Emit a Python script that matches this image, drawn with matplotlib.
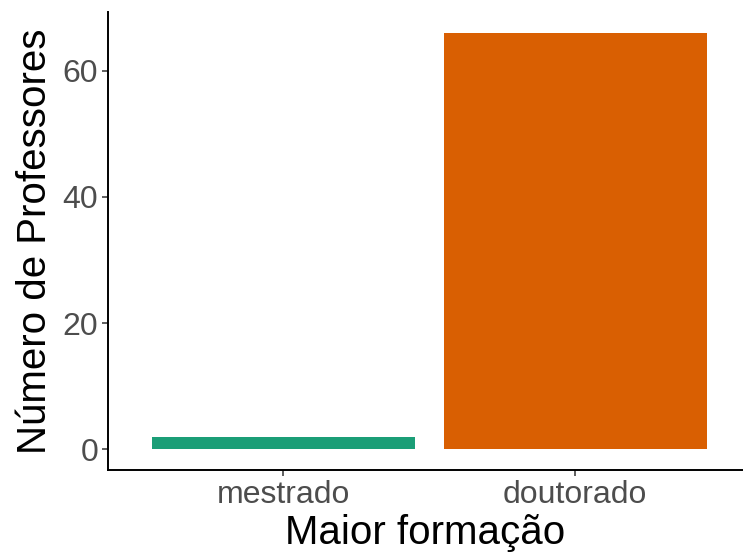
import matplotlib
matplotlib.use("Agg")
import matplotlib.pyplot as plt

# dados
categorias = ["mestrado", "doutorado"]
professores = [2, 66]
cores = ["#1B9E77", "#D95F02"]

plt.rcParams['font.family'] = ['Liberation Sans', 'DejaVu Sans']

fig = plt.figure(figsize=(7.43, 5.59), dpi=100)
ax = fig.add_axes([108 / 743, 89 / 559, 635 / 743, 458 / 559])

x = list(range(1, len(categorias) + 1))
ax.bar(x, professores, width=0.9, color=cores)

ax.set_xlim(0.4, 2.575)
ax.set_ylim(-3.3, 69.3)
ax.set_xticks(x)
ax.set_xticklabels(categorias)
ax.set_yticks([0, 20, 40, 60])

for lado in ["top", "right"]:
    ax.spines[lado].set_visible(False)
for lado in ["left", "bottom"]:
    ax.spines[lado].set_linewidth(1.4)
    ax.spines[lado].set_color("black")

ax.tick_params(axis="both", colors="#333333", labelcolor="#4D4D4D",
               labelsize=23, length=4, width=1.1, pad=3)
ax.set_xlabel("Maior formação", fontsize=29, color="black", labelpad=3)
ax.set_ylabel("Número de Professores", fontsize=29, color="black", labelpad=6)

plt.savefig("out.png", dpi=100)
plt.close()
